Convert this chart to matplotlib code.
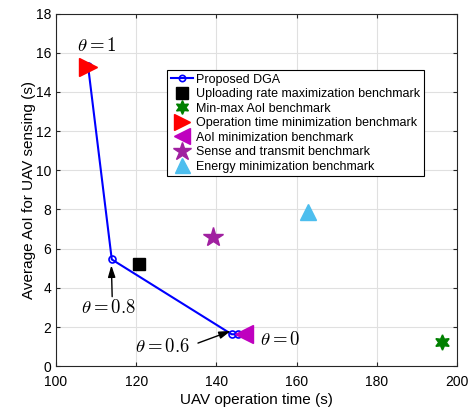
import matplotlib
matplotlib.use("Agg")
import matplotlib.pyplot as plt

plt.rcParams['font.family'] = ['Liberation Sans', 'DejaVu Sans']
plt.rcParams['mathtext.fontset'] = 'cm'

# proposed DGA trade-off curve (theta = 1, 0.8, 0.6, 0)
dga_time = [108.0, 113.9, 143.8, 145.5]
dga_aoi = [15.3, 5.45, 1.63, 1.63]

# benchmarks
upload_pt = (120.8, 5.2)
minmax_pt = (196.3, 1.24)
optime_pt = (108.0, 15.27)
aoimin_pt = (146.8, 1.63)
sense_pt = (139.1, 6.57)
energy_pt = (162.9, 7.88)

fig = plt.figure(figsize=(4.75, 4.11), dpi=100)
ax = fig.add_axes([0.118, 0.109, 0.844, 0.858])

ax.plot(dga_time, dga_aoi, '-o', color='blue', lw=1.5, ms=5,
        mfc='none', mew=1.2, label='Proposed DGA', zorder=3)
ax.plot(*upload_pt, 's', color='black', ms=9, zorder=4, label='Uploading rate maximization benchmark')
ax.plot(*minmax_pt, marker=(6, 1, 0), color='green', ms=11, ls='none', zorder=4,
        label='Min-max AoI benchmark')
ax.plot(*optime_pt, '>', color='red', ms=13, zorder=4, label='Operation time minimization benchmark')
ax.plot(*aoimin_pt, '<', color='m', ms=13, zorder=4, label='AoI minimization benchmark')
ax.plot(*sense_pt, '*', color='#a020a0', ms=15, zorder=4, label='Sense and transmit benchmark')
ax.plot(*energy_pt, '^', color='#4dbeee', ms=12, zorder=4, label='Energy minimization benchmark')

# theta labels
arrow = dict(arrowstyle='-|>,head_length=0.7,head_width=0.22', color='black', lw=1,
             shrinkA=0, shrinkB=0)
ax.text(110.1, 16.34, r'$\theta=1$', fontsize=13.5, ha='center', va='center')
ax.text(156.0, 1.33, r'$\theta=0$', fontsize=13.5, ha='center', va='center')
ax.text(113.0, 2.95, r'$\theta=0.8$', fontsize=13.5, ha='center', va='center')
ax.annotate('', xy=(113.8, 5.15), xytext=(114.0, 3.55), arrowprops=arrow)
ax.text(126.5, 0.99, r'$\theta=0.6$', fontsize=13.5, ha='center', va='center')
ax.annotate('', xy=(143.6, 1.8), xytext=(135.4, 1.18), arrowprops=arrow)

ax.set_xlim(100, 200)
ax.set_ylim(0, 18)
ax.set_xticks(range(100, 201, 20))
ax.set_yticks(range(0, 19, 2))
ax.grid(True, color='#e0e0e0', lw=0.8)
ax.set_axisbelow(True)
ax.tick_params(direction='in', top=True, right=True, labelsize=10, length=3, color='#262626')
ax.tick_params(axis='x', pad=6)
for s in ax.spines.values():
    s.set_color('#262626')
ax.set_xlabel('UAV operation time (s)', fontsize=11, labelpad=3)
ax.set_ylabel('Average AoI for UAV sensing (s)', fontsize=11, labelpad=0)

leg = ax.legend(loc='upper left', bbox_to_anchor=(0.277, 0.84), borderaxespad=0,
                fontsize=9, fancybox=False, edgecolor='black', framealpha=1,
                handlelength=1.8, handletextpad=0.2, borderpad=0.3, labelspacing=0.2,
                numpoints=1, markerscale=0.9)
leg.get_frame().set_linewidth(0.8)

fig.savefig('out.png', dpi=100)
